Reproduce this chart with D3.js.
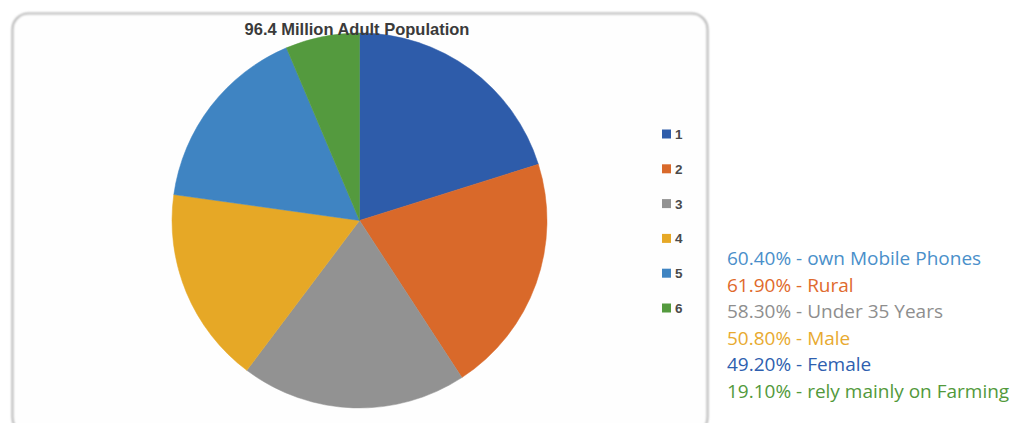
<!DOCTYPE html>
<html>
<head>
<meta charset="utf-8">
<script src="https://cdn.jsdelivr.net/npm/d3@7"></script>
<style>
  html, body { margin: 0; padding: 0; background: #ffffff; }
  svg { display: block; }
</style>
</head>
<body>
<svg id="chart" width="1013" height="423"></svg>
<script>
// Pie slices, in draw order (clockwise from 12 o'clock)
const categories = ["1", "2", "3", "4", "5", "6"];
const values = [60.4, 61.9, 58.3, 50.8, 49.2, 19.1];
const sliceColors = ["#2e5caa", "#d9692a", "#929292", "#e6a826", "#3f84c2", "#549a3e"];

// Annotation lines beside the chart
const noteLabels = ["own Mobile Phones", "Rural", "Under 35 Years", "Male", "Female", "rely mainly on Farming"];
const noteValues = [60.4, 61.9, 58.3, 50.8, 49.2, 19.1];
const noteColors = ["#4a8fca", "#df6a2c", "#8e8e8e", "#e8aa30", "#2f5faf", "#52993b"];

const title = "96.4 Million Adult Population";

const svg = d3.select("#chart");

// Chart frame with rounded corners
const defs = svg.append("defs");
const shadow = defs.append("filter").attr("id", "soft").attr("x", "-5%").attr("y", "-5%").attr("width", "110%").attr("height", "110%");
shadow.append("feGaussianBlur").attr("stdDeviation", 0.8);

svg.append("rect")
  .attr("x", 12.5).attr("y", 13.5)
  .attr("width", 695).attr("height", 420)
  .attr("rx", 16).attr("ry", 16)
  .attr("fill", "#fefefe")
  .attr("stroke", "#9a9a9a")
  .attr("stroke-width", 1.6)
  .attr("filter", "url(#soft)");

// Pie
const cx = 359.5, cy = 220.5, radius = 187.5;
const pie = d3.pie().sort(null).value(d => d);
const arc = d3.arc().innerRadius(0).outerRadius(radius);
const color = d3.scaleOrdinal().domain(categories).range(sliceColors);

const g = svg.append("g").attr("transform", `translate(${cx},${cy})`);
g.selectAll("path")
  .data(pie(values))
  .join("path")
  .attr("d", arc)
  .attr("fill", (d, i) => color(categories[i]))
  .attr("stroke", (d, i) => color(categories[i]))
  .attr("stroke-width", 0.5);

// Title
svg.append("text")
  .attr("x", 357).attr("y", 35)
  .attr("text-anchor", "middle")
  .attr("font-family", "'Liberation Sans', Arial, sans-serif")
  .attr("font-weight", "bold")
  .attr("font-size", 16.5)
  .attr("fill", "#3a3a3a")
  .text(title);

// Legend
const legendY = d3.scalePoint().domain(categories).range([134, 308]);
const legend = svg.append("g");
const items = legend.selectAll("g")
  .data(categories)
  .join("g")
  .attr("transform", d => `translate(662,${legendY(d)})`);
items.append("rect")
  .attr("x", 0).attr("y", -4.5)
  .attr("width", 9).attr("height", 9)
  .attr("fill", d => color(d));
items.append("text")
  .attr("x", 13).attr("y", 5)
  .attr("font-family", "'Liberation Sans', Arial, sans-serif")
  .attr("font-weight", "bold")
  .attr("font-size", 13.5)
  .attr("fill", "#4a4a4a")
  .text(d => d);

// Annotation text
const noteY = d3.scalePoint().domain(d3.range(noteLabels.length)).range([265, 398]);
svg.append("g").selectAll("text")
  .data(noteLabels)
  .join("text")
  .attr("x", 727)
  .attr("y", (d, i) => noteY(i))
  .attr("font-family", "'Open Sans', 'Noto Sans', sans-serif")
  .attr("font-size", 19)
  .attr("fill", (d, i) => noteColors[i])
  .text((d, i) => `${noteValues[i].toFixed(2)}% - ${d}`);
</script>
</body>
</html>
